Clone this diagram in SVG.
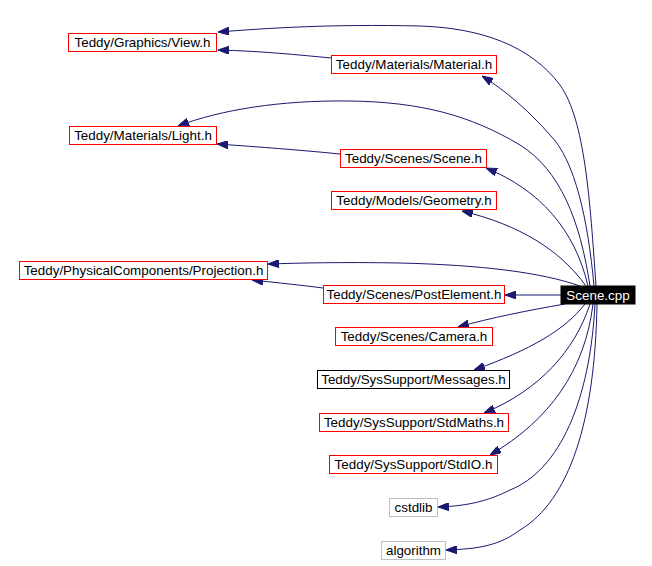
<svg xmlns="http://www.w3.org/2000/svg" width="652" height="566" viewBox="0 0 652 566">
<style>
.n rect{fill:#fff;stroke:#f00;stroke-width:1}
.n.k rect{stroke:#000}
.n.g rect{stroke:#bfbfbf}
.n text{font-family:"Liberation Sans",Arial,sans-serif;font-size:13.4px;text-anchor:middle;fill:#000}
.n.s rect{fill:#000;stroke:#000}
.n.s text{fill:#fff}
.e path{fill:none;stroke:#191970;stroke-width:1;marker-end:url(#a)}
</style>
<defs>
<marker id="a" markerUnits="userSpaceOnUse" markerWidth="11" markerHeight="8" refX="11" refY="4" orient="auto">
<path d="M0,0 L11,4 L0,8 z" fill="#191970" stroke="#191970" stroke-width="1"/>
</marker>
</defs>
<rect width="652" height="566" fill="#fff"/>
<g class="e" id="edges">
<path d="M596,286 C590,200 585,120 560,85 C530,45 480,28 420,26 C330,24 270,28 218,32"/>
<path d="M331,58 C300,55 260,51 218,50"/>
<path d="M594,286 C588,220 575,160 550,135 C530,112 505,90 482,76"/>
<path d="M590,286 C580,220 560,170 520,145 C470,115 420,102 350,101 C280,100 220,110 178,126"/>
<path d="M340,154 C300,150 260,147 217,144"/>
<path d="M588,286 C575,230 540,190 486,168"/>
<path d="M586,286 C560,250 520,225 462,211"/>
<path d="M580,286 C540,272 480,265 400,263 C340,262 300,263 268,264"/>
<path d="M323,288 C300,285 280,283 252,280"/>
<path d="M561,295 L505,295"/>
<path d="M565,304 C530,310 490,318 458,327"/>
<path d="M585,304 C565,330 530,350 474,370"/>
<path d="M590,304 C575,350 540,390 484,413"/>
<path d="M593,304 C585,370 550,420 490,455"/>
<path d="M595,304 C590,400 560,470 510,490 C490,500 470,506 438,507"/>
<path d="M597,304 C595,420 570,500 520,530 C500,545 480,549 446,550"/>
</g>
<g class="n s" id="scene_cpp"><rect x="561" y="286" width="74" height="18"/><text x="598" y="299.5">Scene.cpp</text></g>
<g class="n" id="view_h"><rect x="68.5" y="33.5" width="148" height="18"/><text x="142.5" y="47">Teddy/Graphics/View.h</text></g>
<g class="n" id="material_h"><rect x="331.5" y="55.5" width="165" height="18"/><text x="414" y="69">Teddy/Materials/Material.h</text></g>
<g class="n" id="light_h"><rect x="69.5" y="126.5" width="147" height="18"/><text x="143" y="140">Teddy/Materials/Light.h</text></g>
<g class="n" id="scene_h"><rect x="340.5" y="149.5" width="146" height="18"/><text x="413.5" y="163">Teddy/Scenes/Scene.h</text></g>
<g class="n" id="geometry_h"><rect x="331.5" y="191.5" width="165" height="18"/><text x="414" y="205">Teddy/Models/Geometry.h</text></g>
<g class="n" id="projection_h"><rect x="19.5" y="261.5" width="248" height="18"/><text x="143.5" y="275">Teddy/PhysicalComponents/Projection.h</text></g>
<g class="n" id="postelement_h"><rect x="323.5" y="285.5" width="181" height="18"/><text x="414" y="299">Teddy/Scenes/PostElement.h</text></g>
<g class="n" id="camera_h"><rect x="335.5" y="327.5" width="157" height="18"/><text x="414" y="341">Teddy/Scenes/Camera.h</text></g>
<g class="n k" id="messages_h"><rect x="317.5" y="370.5" width="192" height="18"/><text x="413.5" y="384">Teddy/SysSupport/Messages.h</text></g>
<g class="n" id="stdmaths_h"><rect x="319.5" y="413.5" width="189" height="18"/><text x="414" y="427">Teddy/SysSupport/StdMaths.h</text></g>
<g class="n" id="stdio_h"><rect x="329.5" y="455.5" width="168" height="18"/><text x="413.5" y="469">Teddy/SysSupport/StdIO.h</text></g>
<g class="n g" id="cstdlib"><rect x="389.5" y="498.5" width="48" height="18"/><text x="413.5" y="512">cstdlib</text></g>
<g class="n g" id="algorithm"><rect x="381.5" y="541.5" width="64" height="18"/><text x="413.5" y="555">algorithm</text></g>
</svg>
